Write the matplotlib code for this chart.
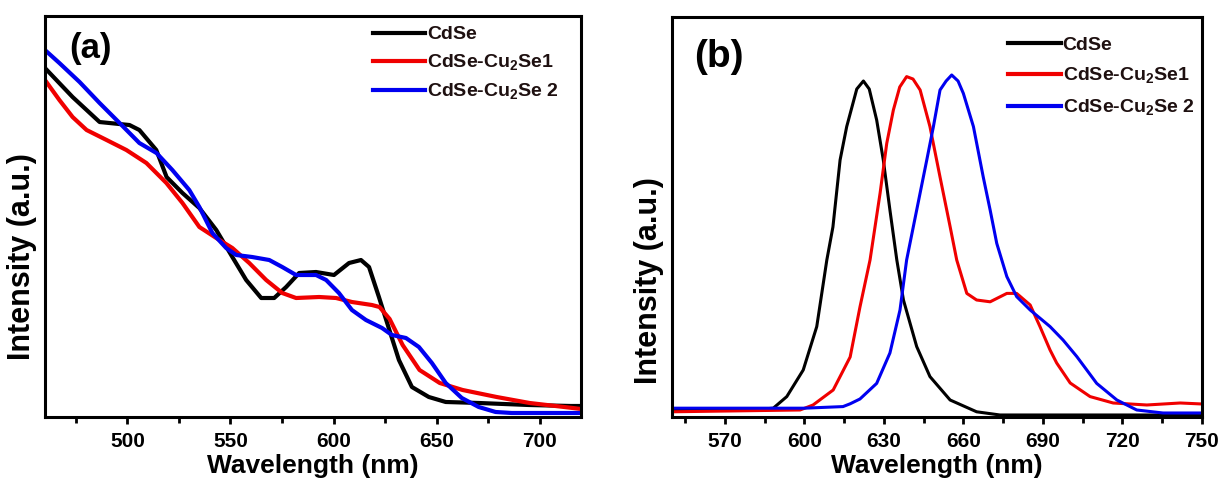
import numpy as np
import matplotlib as mpl
import matplotlib.pyplot as plt
from matplotlib.ticker import MultipleLocator

plt.rcParams['font.family'] = ['Liberation Sans', 'DejaVu Sans']
plt.rcParams['font.weight'] = 'bold'
plt.rcParams['mathtext.fontset'] = 'custom'
plt.rcParams['mathtext.rm'] = 'Liberation Sans:bold'
plt.rcParams['mathtext.bf'] = 'Liberation Sans:bold'

labels = ['CdSe', r'CdSe-Cu$_\mathbf{2}$Se1', r'CdSe-Cu$_\mathbf{2}$Se 2']
colors = ['black', '#f00000', '#0000f0']

# (a) absorption
abs_cdse_wl = [460, 473.4, 486.5, 501, 505.8, 514, 519, 526.7, 534.9, 543.1, 550.9, 557.6,
               564.9, 571.2, 577, 583.3, 591.5, 600.2, 607.5, 613.3, 617.2, 622, 626, 631.7,
               638, 646.2, 654.4, 670.4, 694.6, 715, 720]
abs_cdse = [87.25, 80, 73.75, 73, 71.75, 66.75, 60, 56, 52.25, 46.75, 40, 34.25,
            29.75, 29.75, 32.5, 36, 36.25, 35.5, 38.5, 39.25, 37.5, 30, 23.5, 14.25,
            7.5, 5, 3.75, 3.5, 3, 2.75, 2.75]

abs_cu1_wl = [460, 467, 473.4, 480.2, 489.9, 499.5, 509.2, 518.9, 526.7, 534.9, 543.1, 550.9,
              559.1, 567.3, 575.1, 581.8, 593, 601.2, 608.9, 618.6, 622.3, 627.2, 633.5, 641.7,
              651.5, 662.6, 679.1, 695.1, 716, 720]
abs_cu1 = [84.25, 79.25, 75, 71.75, 69.25, 66.75, 63.5, 58.5, 53.5, 47.5, 44.75, 42.25,
           38.5, 34.25, 31, 29.75, 30, 29.75, 28.75, 28, 27.5, 24.5, 18, 11.75,
           8.5, 6.75, 5, 3.5, 2.25, 2]

abs_cu2_wl = [460, 467, 476.8, 486.5, 496.2, 505.8, 514.1, 521.8, 530, 534.9, 541.2, 547.9,
              552.8, 560.5, 568.8, 575.1, 581.8, 591.5, 596.4, 602.6, 608.9, 615.7, 623.5, 628.3,
              635.1, 641.4, 647.7, 654.4, 662.2, 670.4, 678.6, 686.4, 720]
abs_cu2 = [91.75, 88.5, 83.75, 78.5, 73.5, 68.5, 66, 61.75, 56.75, 52.5, 46, 42.25,
           40.5, 40, 39.25, 37.5, 35.5, 35.5, 34.25, 31, 26.75, 24.25, 22.25, 20.5,
           19.75, 17.5, 13.5, 8.5, 4.75, 2.5, 1.25, 1, 1]

# (b) photoluminescence
pl_cdse_wl = [550, 580, 588.3, 593.4, 599.6, 604.7, 608.5, 610.8, 613.5, 616, 619.8, 622.3,
              624.5, 627.3, 629.8, 632.3, 634.9, 637.4, 642.4, 647.4, 655, 665, 673.8, 750]
pl_cdse = [1.75, 1.75, 2.2, 5.1, 11.75, 22.6, 39.25, 47.5, 64.25, 72.6, 82, 84,
           82, 74.25, 64.25, 51.75, 39.25, 29.25, 17.6, 10.1, 4.25, 1.3, 0.5, 0.5]

pl_cu1_wl = [550, 598.4, 603.3, 610.9, 617.3, 621, 624.8, 628.6, 631.1, 633.6, 636, 638.6,
             641, 643.7, 647.4, 651.2, 655, 657.5, 661.3, 665, 670.1, 676.4, 680.1, 685.2,
             688.9, 692.7, 695.2, 700.3, 707.8, 716.5, 729.2, 741.8, 750]
pl_cu1 = [1.3, 1.75, 3, 6.75, 15, 27.5, 39.25, 56, 68.4, 76.75, 82.5, 85.1,
          84.5, 81.75, 72.6, 60, 47.6, 39.25, 30.9, 29.25, 28.8, 30.9, 30.9, 28,
          22.6, 16.75, 13.5, 8.5, 5.1, 3.5, 3, 3.5, 3.25]

pl_cu2_wl = [550, 600, 614.6, 617.3, 621, 627.3, 632.3, 636.1, 638.6, 642.4, 646.2, 648.7,
             651.2, 653.5, 655.6, 658, 660, 663.8, 667.5, 670.1, 672.6, 676.4, 680.1, 685.2,
             692.7, 697.6, 702.8, 710.3, 717.9, 725.4, 735.3, 750]
pl_cu2 = [2.2, 2.2, 2.6, 3.3, 4.5, 8.4, 16, 26.75, 39.25, 51.75, 64.25, 72.6,
          81.75, 84, 85.5, 84, 80.9, 72.6, 60, 51.75, 43.4, 35.1, 30.1, 26.75,
          22.6, 19.25, 15.1, 8.4, 4.25, 1.75, 1, 1]

fig = plt.figure(figsize=(12.22, 4.86), dpi=100)
ax1 = fig.add_axes([0.0368, 0.142, 0.4386, 0.825])
ax2 = fig.add_axes([0.5497, 0.142, 0.4339, 0.823])

for x, y, c, l in zip([abs_cdse_wl, abs_cu1_wl, abs_cu2_wl], [abs_cdse, abs_cu1, abs_cu2], colors, labels):
    ax1.plot(x, y, color=c, linewidth=3, label=l)
for x, y, c, l in zip([pl_cdse_wl, pl_cu1_wl, pl_cu2_wl], [pl_cdse, pl_cu1, pl_cu2], colors, labels):
    ax2.plot(x, y, color=c, linewidth=2.2, label=l)

ax1.set_xlim(460, 720)
ax1.set_ylim(0, 100.25)
ax1.xaxis.set_major_locator(MultipleLocator(50))
ax1.xaxis.set_minor_locator(MultipleLocator(25))
ax2.set_xlim(550, 750)
ax2.set_ylim(0, 100)
ax2.xaxis.set_major_locator(MultipleLocator(30))
ax2.xaxis.set_minor_locator(MultipleLocator(15))

for ax, ly, lx, lsp, yc, tag, tx, ty, tsz in [(ax1, 0.955, 0.597, 0.47, 0.40, '(a)', 0.045, 0.92, 25),
                                              (ax2, 0.932, 0.62, 0.62, 0.34, '(b)', 0.042, 0.90, 28)]:
    for s in ax.spines.values():
        s.set_linewidth(2.2)
    ax.set_yticks([])
    ax.tick_params(axis='x', which='major', direction='out', length=5, width=2, labelsize=15, pad=6)
    ax.tick_params(axis='x', which='minor', direction='out', length=4, width=2)
    ax.set_xlabel('Wavelength (nm)', fontsize=19, fontweight='bold', labelpad=2)
    ax.set_ylabel('Intensity (a.u.)', fontsize=22, fontweight='bold')
    ax.yaxis.set_label_coords(-0.014, yc)
    ax.text(tx, ty, tag, transform=ax.transAxes, fontsize=tsz, fontweight='bold', ha='left', va='center')
    leg = ax.legend(loc='upper left', bbox_to_anchor=(lx, ly + 0.04), frameon=False, fontsize=14,
                    handlelength=2.7, handletextpad=0.1, labelspacing=lsp, borderaxespad=0)
    for t in leg.get_texts():
        t.set_color('#1e1010')
    for h in leg.get_lines():
        h.set_linewidth(3)

plt.savefig('out.png', dpi=100)
